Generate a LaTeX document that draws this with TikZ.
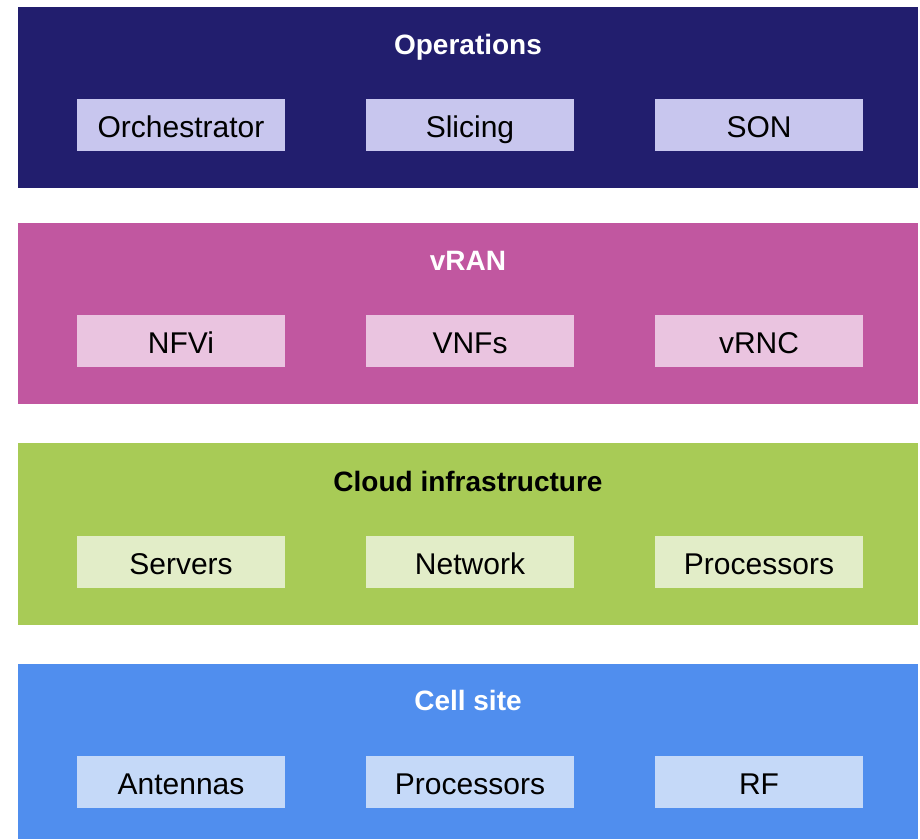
\documentclass[tikz,border=0pt]{standalone}
\usepackage{fontspec}
\setmainfont{Liberation Sans}
\definecolor{opsD}{HTML}{221E6E}
\definecolor{opsL}{HTML}{C8C6EE}
\definecolor{vranD}{HTML}{C157A0}
\definecolor{vranL}{HTML}{EAC4E0}
\definecolor{cloudD}{HTML}{A8CB56}
\definecolor{cloudL}{HTML}{E2EDC8}
\definecolor{cellD}{HTML}{508EEE}
\definecolor{cellL}{HTML}{C5D9F8}
\tikzset{
  band/.style={draw=none,inner sep=0pt,anchor=north west,minimum width=900pt},
  item/.style={draw=none,inner sep=0pt,minimum width=208pt,minimum height=52pt,
    text height=26pt,text depth=2pt,font=\fontsize{30}{32}\selectfont,text=black},
  title/.style={anchor=base,inner sep=0pt,font=\fontsize{28}{30}\selectfont\bfseries},
}
\begin{document}
\begin{tikzpicture}[x=1pt,y=-1pt]
\useasboundingbox (0,0) rectangle (920,839);
% bands
\node[band,fill=opsD,minimum height=181pt] (ops) at (18,7) {};
\node[band,fill=vranD,minimum height=181pt] (vran) at (18,223) {};
\node[band,fill=cloudD,minimum height=182pt] (cloud) at (18,443) {};
\node[band,fill=cellD,minimum height=175pt] (cell) at (18,664) {};
% titles
\node[title,text=white] (opsT) at (468,54) {Operations};
\node[title,text=white] (vranT) at (468,270) {vRAN};
\node[title,text=black] (cloudT) at (468,491) {Cloud infrastructure};
\node[title,text=white] (cellT) at (468,710) {Cell site};
% items
\node[item,fill=opsL] (o1) at (181,125) {Orchestrator};
\node[item,fill=opsL] (o2) at (470,125) {Slicing};
\node[item,fill=opsL] (o3) at (759,125) {SON};
\node[item,fill=vranL] (v1) at (181,341) {NFVi};
\node[item,fill=vranL] (v2) at (470,341) {VNFs};
\node[item,fill=vranL] (v3) at (759,341) {vRNC};
\node[item,fill=cloudL] (c1) at (181,562) {Servers};
\node[item,fill=cloudL] (c2) at (470,562) {Network};
\node[item,fill=cloudL] (c3) at (759,562) {Processors};
\node[item,fill=cellL] (s1) at (181,782) {Antennas};
\node[item,fill=cellL] (s2) at (470,782) {Processors};
\node[item,fill=cellL] (s3) at (759,782) {RF};
\end{tikzpicture}
\end{document}
